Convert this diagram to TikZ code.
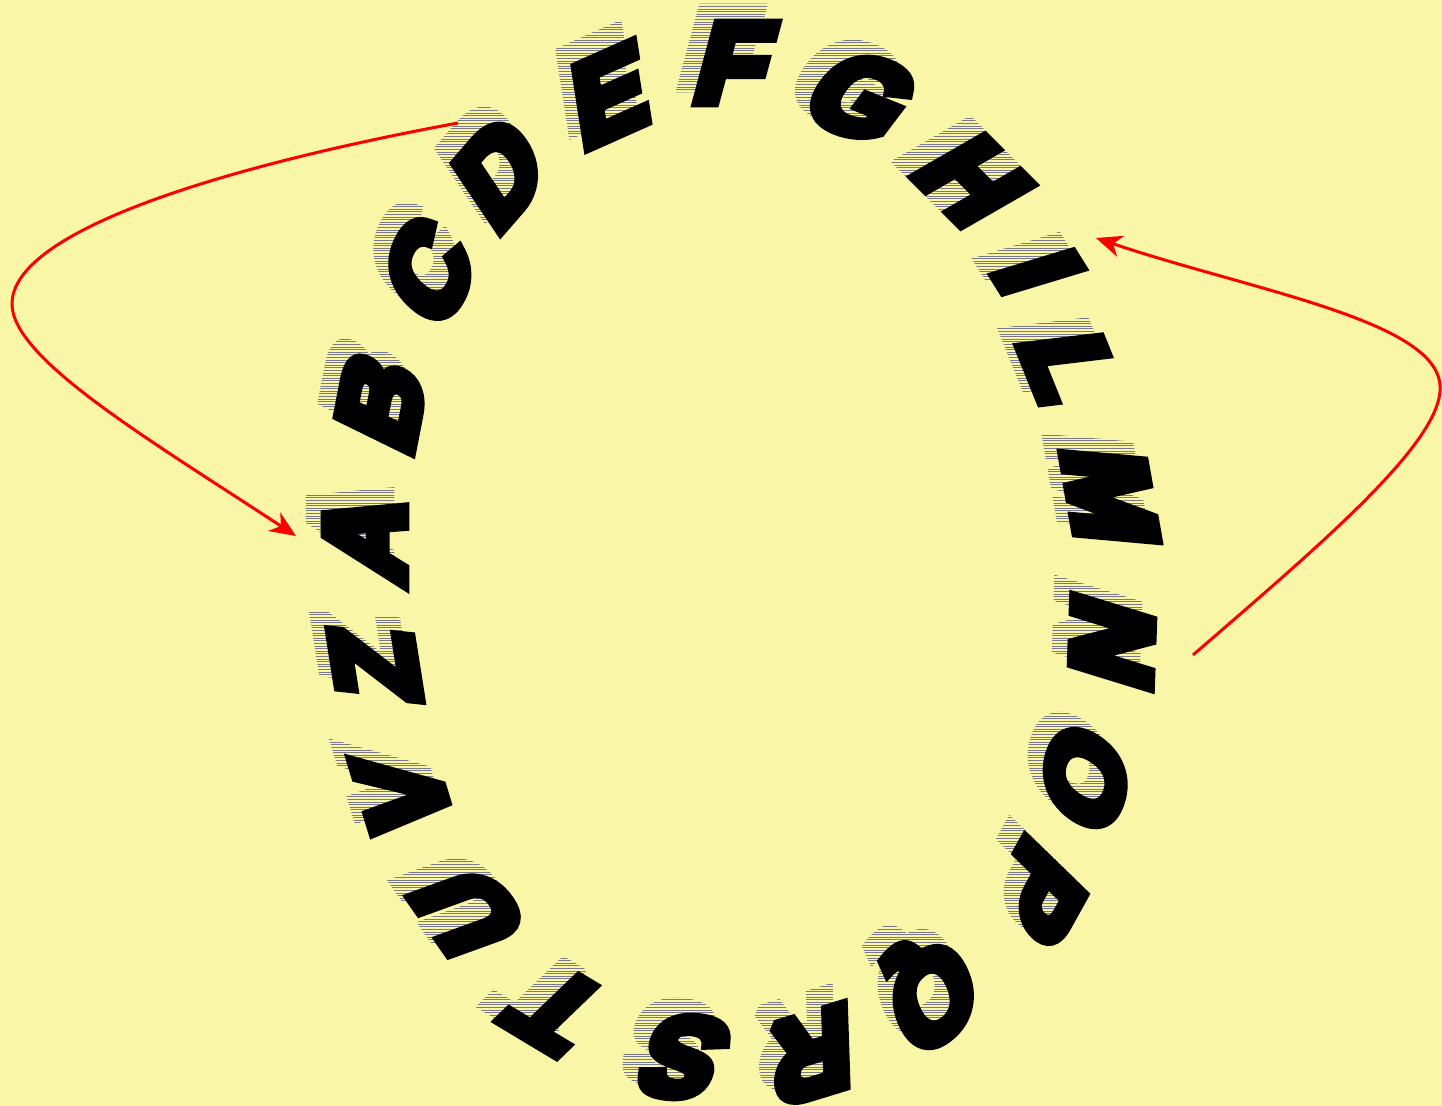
\documentclass[tikz,border=0pt]{standalone}
\usepackage{fontspec}
\newfontfamily\letterfont{Liberation Sans Bold}[FakeBold=10.5]
\usetikzlibrary{arrows.meta}
\definecolor{paper}{RGB}{249,247,167}
\definecolor{hatchgray}{RGB}{120,120,134}
\definecolor{arrowred}{RGB}{255,0,0}

% letter / centre x / centre y / turn
\def\ringletters{A/365/536/90, B/381/401/79, C/429/271/63, D/500/172/49,
  E/610/95/24, F/735/63/0, G/862/97/-22, H/973/181/-45, I/1038/272/-58,
  L/1070/368/-68, M/1110/497/-80, N/1112/642/-92, O/1085/778/-108,
  P/1040/893/-119, Q/933/997/-140, R/812/1055/-163, S/683/1057/-187,
  T/557/1010/149, U/468/912/125, V/403/795/107, Z/375/664/99}
\newcommand{\bluntglyph}[1]{\pgfsetmiterlimit{2}#1}

\begin{document}
\begin{tikzpicture}[
  x=0.5pt, y=-0.5pt,
  >=Stealth,
  glyph/.style={inner sep=0pt, text height=38.5pt, text depth=0pt,
    font=\letterfont\fontsize{56pt}{56pt}\selectfont, xslant=0.27},
  inkglyph/.style={glyph, text=black},
  shadeglyph/.style={glyph, text=hatchgray},
  hatchline/.style={draw=paper, line width=0.75pt},
  loopmap/.style={->, draw=arrowred, line width=1.5pt,
    -{Stealth[length=13pt, width=11pt, inset=4pt]}}
]
  \useasboundingbox (0,0) rectangle (1442,1105);
  \fill[paper] (0,0) rectangle (1442,1105);

  % shadows, hatched by stripes of paper colour
  \foreach \ch/\px/\py/\r in \ringletters
    \node[rotate=\r, shadeglyph] (s\ch) at (\px-15,\py-15) {\bluntglyph{\ch}};
  \foreach \k in {0,...,425}
    \draw[hatchline] (0,\k*2.6) -- (1442,\k*2.6);

  % the letters
  \foreach \ch/\px/\py/\r in \ringletters
    \node[rotate=\r, inkglyph] (l\ch) at (\px,\py) {\bluntglyph{\ch}};

  % arrows
  \coordinate (dtail) at (458,123);
  \coordinate (ahead) at (296,536);
  \coordinate (ntail) at (1193,655);
  \coordinate (ihead) at (1096,238);
  \draw[loopmap] (dtail) .. controls (230,165) and (10,230) .. (12,305)
    .. controls (14,360) and (150,440) .. (ahead);
  \draw[loopmap] (ntail) .. controls (1320,545) and (1445,440) .. (1440,385)
    .. controls (1435,320) and (1250,290) .. (ihead);
\end{tikzpicture}
\end{document}
